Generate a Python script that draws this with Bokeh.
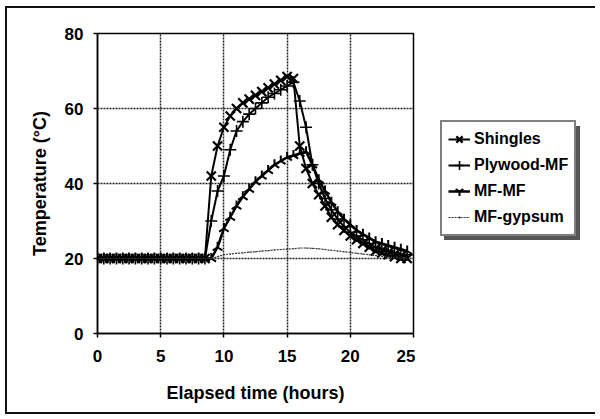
import math
from bokeh.plotting import figure
from bokeh.models import Legend, LegendItem, FixedTicker, Range1d
from bokeh.layouts import row
from bokeh.embed import file_html
from bokeh.resources import INLINE

time_h = [0, 0.5, 1, 1.5, 2, 2.5, 3, 3.5, 4, 4.5, 5, 5.5, 6, 6.5, 7, 7.5, 8, 8.5,
          9, 9.5, 10, 10.5, 11, 11.5, 12, 12.5, 13, 13.5, 14, 14.5, 15, 15.5, 16, 16.5,
          17, 17.5, 18, 18.5, 19, 19.5, 20, 20.5, 21, 21.5, 22, 22.5, 23, 23.5, 24, 24.5]

shingles = [20, 20, 20, 20, 20, 20, 20, 20, 20, 20, 20, 20, 20, 20, 20, 20, 20, 20,
            42, 50, 55, 58, 60, 61.5, 62.5, 63.5, 64.5, 65.5, 66.5, 67.5, 68.5, 68, 50, 44,
            40, 37, 34, 31, 29, 27.5, 26, 25, 24, 23, 22, 21.5, 21, 20.5, 20, 20]

plywood_mf = [20, 20, 20, 20, 20, 20, 20, 20, 20, 20, 20, 20, 20, 20, 20, 20, 20, 20,
              30, 38, 42, 49, 54, 56.5, 58.5, 60, 61.5, 63, 64, 65, 66, 67, 62, 55,
              45, 40, 36, 33, 30.5, 28.5, 27, 26, 25, 24, 23, 22.5, 22, 21.5, 21, 21]

mf_mf = [20, 20, 20, 20, 20, 20, 20, 20, 20, 20, 20, 20, 20, 20, 20, 20, 20, 20,
         20, 23, 28, 31, 34, 36.5, 38.5, 40.5, 42, 43.5, 45, 46, 47, 47.5, 48, 48.5,
         45, 41, 38, 35, 32.5, 30.5, 29, 27.5, 26.5, 25.5, 24.5, 24, 23.5, 23, 22.5, 22]

mf_gypsum = [20, 20, 20, 20, 20, 20, 20, 20, 20, 20, 20, 20, 20, 20, 20, 20, 20, 20,
             20, 20.5, 21, 21.2, 21.4, 21.5, 21.7, 21.8, 22, 22.1, 22.3, 22.4, 22.5, 22.6, 22.8, 22.8,
             22.7, 22.6, 22.4, 22.2, 22, 21.8, 21.6, 21.4, 21.2, 21, 20.8, 20.6, 20.4, 20.2, 20.1, 20]

series_names = ["Shingles", "Plywood-MF", "MF-MF", "MF-gypsum"]
x_ticks = [0, 5, 10, 15, 20, 25]
y_ticks = [0, 20, 40, 60, 80]

FONT = "Liberation Sans"

STYLES = [
    dict(line=dict(line_color="black", line_width=2),
         mark=dict(marker="x", size=13, line_color="black", line_width=2.2)),
    dict(line=dict(line_color="black", line_width=2),
         mark=dict(marker="cross", size=12, line_color="black", line_width=1.6)),
    dict(line=dict(line_color="black", line_width=2.5),
         mark=dict(marker="y", size=11, angle=math.pi, line_color="black", line_width=2)),
    dict(line=dict(line_color="#333333", line_width=1.2, line_dash="2 1"),
         mark=dict(marker="dot", size=5, line_color="#333333", fill_color="#333333")),
]

p = figure(width=415, height=419, output_backend="svg", toolbar_location=None,
           x_range=Range1d(0, 25), y_range=Range1d(0, 80),
           min_border_left=97, min_border_right=2, min_border_top=33, min_border_bottom=86,
           background_fill_color="white", border_fill_color=None)

p.outline_line_color = "black"
p.outline_line_width = 1.5
p.outline_line_alpha = 1

for ax in (p.xaxis[0], p.yaxis[0]):
    ax.axis_line_color = "black"
    ax.axis_line_width = 1.5
    ax.major_tick_line_color = "black"
    ax.major_tick_line_width = 1.5
    ax.major_tick_in = 0
    ax.major_tick_out = 4
    ax.minor_tick_line_color = None
    ax.major_label_text_font = FONT
    ax.major_label_text_font_style = "bold"
    ax.major_label_text_font_size = "17px"
    ax.major_label_text_color = "black"
    ax.axis_label_text_font = FONT
    ax.axis_label_text_font_style = "bold"
    ax.axis_label_text_font_size = "18px"
    ax.axis_label_text_color = "black"

p.xaxis.ticker = FixedTicker(ticks=x_ticks)
p.yaxis.ticker = FixedTicker(ticks=y_ticks)
p.xaxis.axis_label = "Elapsed time (hours)"
p.yaxis.axis_label = "Temperature (°C)"
p.xaxis.major_label_standoff = 12
p.yaxis.major_label_standoff = 10
p.xaxis.axis_label_standoff = 18
p.yaxis.axis_label_standoff = 12

for g in (p.xgrid[0], p.ygrid[0]):
    g.grid_line_color = "#222222"
    g.grid_line_width = 1.5
    g.grid_line_dash = "2 1"

for ys, st in zip([shingles, plywood_mf, mf_mf, mf_gypsum], STYLES):
    p.line(time_h, ys, **st["line"])
    p.scatter(time_h, ys, **st["mark"])

# legend panel: a companion figure whose frame holds the legend box
pl = figure(width=185, height=419, output_backend="svg", toolbar_location=None,
            x_range=Range1d(0, 1), y_range=Range1d(0, 1),
            x_axis_type=None, y_axis_type=None, min_border=0,
            background_fill_color=None, border_fill_color=None)
pl.outline_line_color = None
pl.grid.visible = False

items = []
for name, st in zip(series_names, STYLES):
    r1 = pl.line([5, 6], [5, 6], **st["line"])
    r2 = pl.scatter([5], [5], **st["mark"])
    items.append(LegendItem(label=name, renderers=[r1, r2]))

legend = Legend(items=items, location=(25, 97))
legend.label_text_font = FONT
legend.label_text_font_style = "bold"
legend.label_text_font_size = "16px"
legend.label_text_color = "black"
legend.glyph_width = 22
legend.glyph_height = 22
legend.label_height = 22
legend.label_standoff = 4
legend.spacing = 4
legend.padding = 6
legend.margin = 0
legend.border_line_color = "black"
legend.border_line_width = 2
legend.background_fill_color = "white"
legend.background_fill_alpha = 1
pl.add_layout(legend, "center")

layout = row(p, pl, spacing=0)
# outer chart frame and legend shadow, drawn behind the transparent canvases
bg = ", ".join([
    "linear-gradient(#111,#111) 5px 6px / 590px 2px no-repeat",
    "linear-gradient(#111,#111) 5px 412px / 590px 2px no-repeat",
    "linear-gradient(#111,#111) 5px 6px / 2px 408px no-repeat",
    "linear-gradient(#555,#555) 444px 126px / 136px 114px no-repeat",
])
layout.styles = {"background": bg + ", white"}

open("out.html", "w").write(file_html(layout, INLINE))
